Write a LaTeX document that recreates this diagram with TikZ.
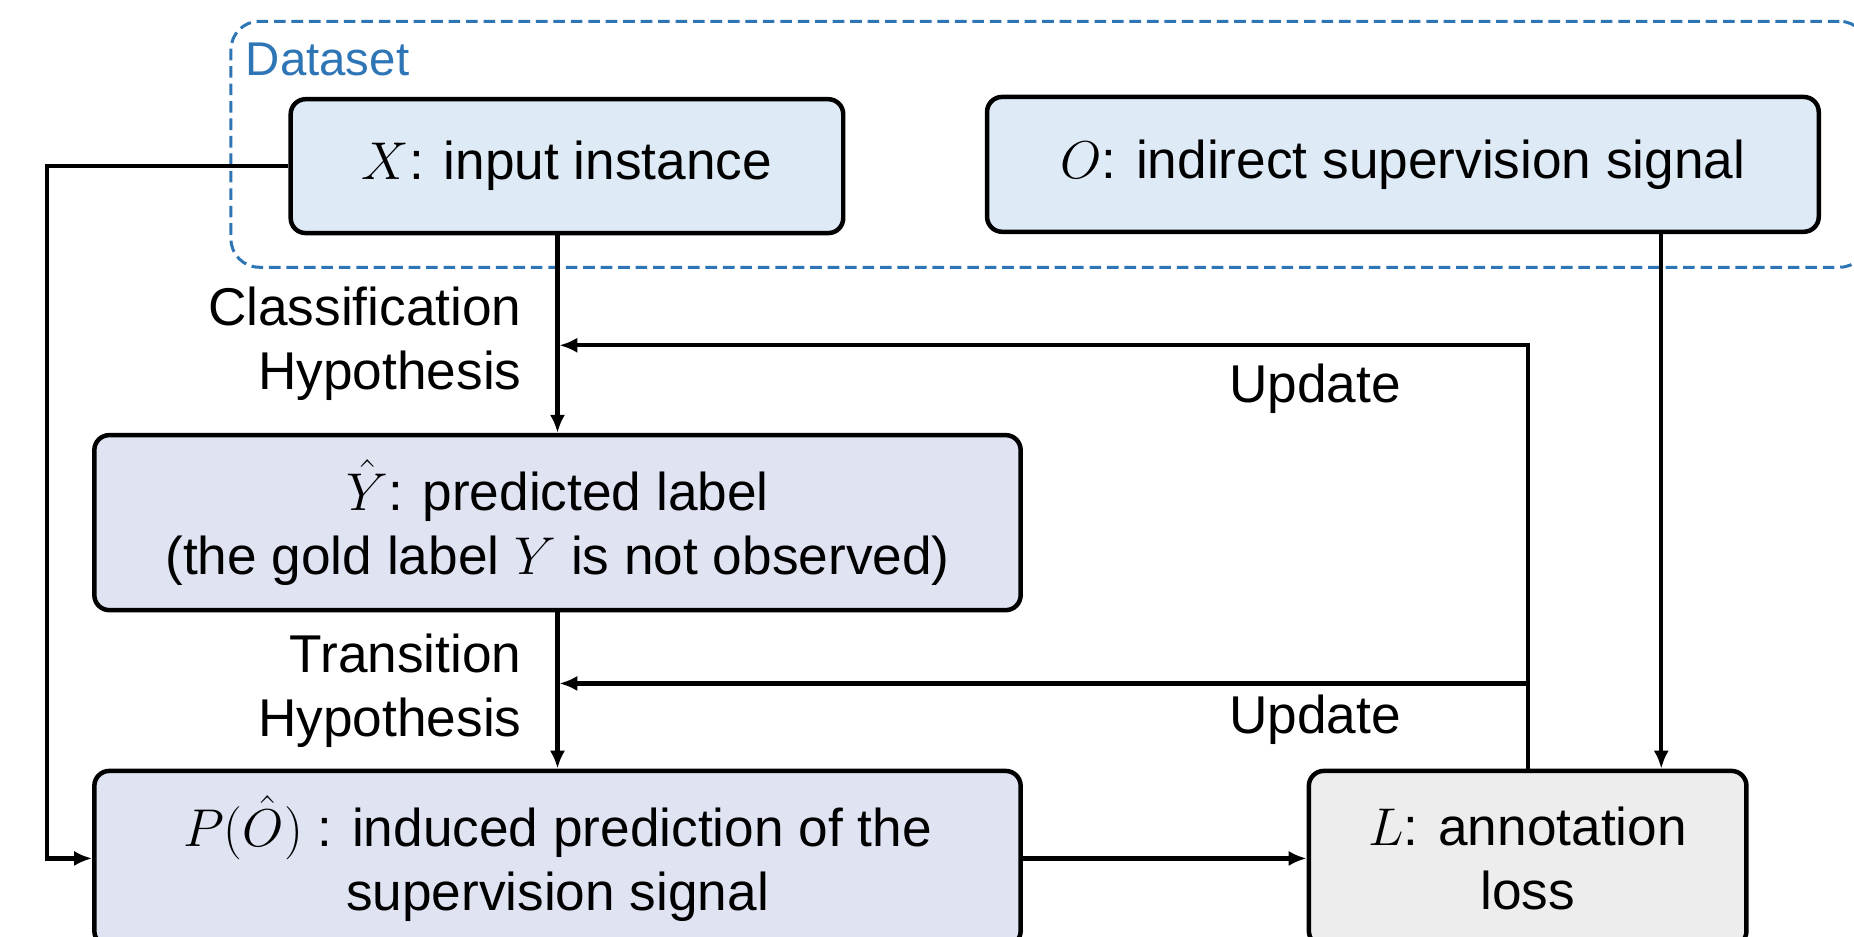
\documentclass[tikz,border=0pt]{standalone}
\usepackage{fix-cm}
\usepackage{fontspec}
\setmainfont{Liberation Sans}
\usetikzlibrary{arrows.meta}
\definecolor{data-blue}{HTML}{2E75B6}
\definecolor{input-bg}{HTML}{DEEAF6}
\definecolor{pred-bg}{HTML}{DFE3F2}
\definecolor{loss-bg}{HTML}{EDEDED}

\begin{document}
\begin{tikzpicture}[x=0.025cm, y=-0.025cm,
    box/.style={draw, line width=2.7pt, rounded corners=9pt, align=center,
                inner sep=0pt, font=\fontsize{32}{38.4}\selectfont},
    link/.style={line width=2.5pt, -{Latex[length=0.38cm, width=0.32cm]}},
    lbl/.style={align=right, font=\fontsize{32}{38.4}\selectfont}]
    % Diagram: dataset block on top, predictions below, loss on the right.
    % Coordinates in px of the picture, y grows downwards:
    %   dataset frame 195..1580 x 18..226
    %   X box at (479,140), O box at (1186,139)
    %   Yhat box at (471,442), P box at (471,726), L box at (1292,726)
    %   update lines at y=292 and y=578, feedback column x=1293
    \clip (0,0) rectangle (1568,792);
    \node[draw=data-blue, dash pattern=on 7pt off 3.5pt, line width=1.8pt,
          rounded corners=0.6cm, minimum width=34.6cm, minimum height=5.2cm]
          (dataset) at (887.5,122) {};
    \node[anchor=west, text=data-blue, font=\fontsize{28.5}{34}\selectfont]
          (datalbl) at (203,50) {Dataset};
    \node[box, fill=input-bg, minimum width=11.68cm, minimum height=2.83cm]
          (X) at (479.5,140.5) {$X$: input instance};
    \node[box, fill=input-bg, minimum width=17.58cm, minimum height=2.85cm]
          (O) at (1186.5,139) {$O$: indirect supervision signal};
    \node[box, fill=pred-bg, minimum width=19.58cm, minimum height=3.7cm]
          (Yhat) at (471.5,442) {$\hat{Y}$: predicted label\\(the gold label $Y$ is not observed)};
    \node[box, fill=pred-bg, minimum width=19.58cm, minimum height=3.7cm]
          (P) at (471.5,726) {$P(\hat{O})$ : induced prediction of the\\supervision signal};
    \node[box, fill=loss-bg, minimum width=9.25cm, minimum height=3.7cm]
          (L) at (1292,726) {$L$: annotation\\loss};

    \coordinate (upd1) at (473,292);
    \coordinate (upd2) at (473,578);
    \coordinate (otap) at (1405,196);
    \coordinate (lft) at (40,400);

    \draw[link] (X.south -| Yhat.north) -- (Yhat.north)
      node[midway, left=0.6cm, yshift=-0.2cm, lbl] (cls) {Classification\\Hypothesis};
    \draw[link] (Yhat.south) -- (P.north)
      node[midway, left=0.6cm, lbl] (trn) {Transition\\Hypothesis};
    \draw[link] (L.north) |- (upd1);
    \draw[link] (L.north |- upd2) -- (upd2);
    \node[lbl] (upd1lbl) at (1112,329) {Update};
    \node[lbl] (upd2lbl) at (1112,609) {Update};
    \draw[link] (otap) -- (otap |- L.north);
    \draw[link] (X.west) -| (lft) |- (P.west);
    \draw[link] (P.east) -- (L.west);
  \end{tikzpicture}
\end{document}
